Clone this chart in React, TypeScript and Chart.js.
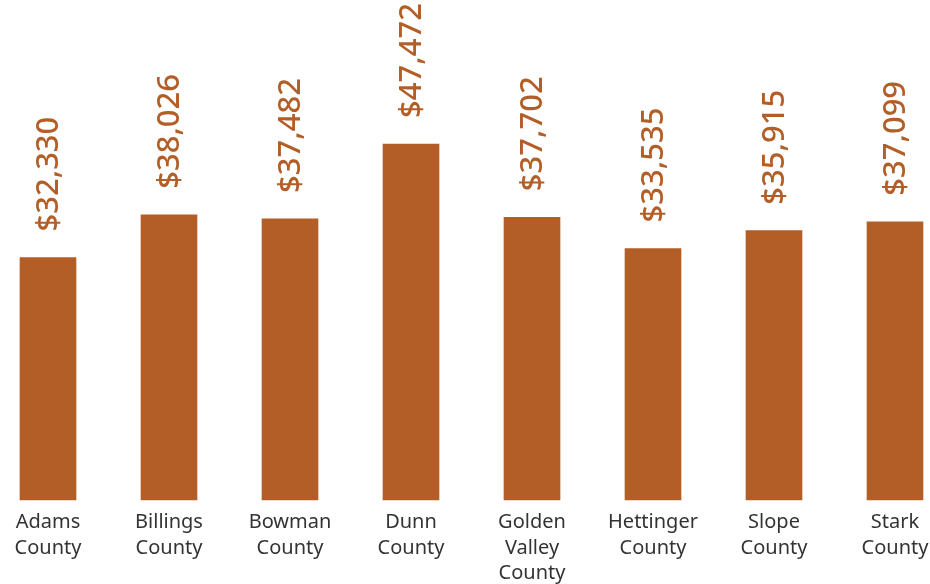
import React, { useEffect, useRef } from "react";
import { Chart, registerables } from "chart.js";

Chart.register(...registerables);

const categories: string[][] = [
  ["Adams", "County"],
  ["Billings", "County"],
  ["Bowman", "County"],
  ["Dunn", "County"],
  ["Golden", "Valley", "County"],
  ["Hettinger", "County"],
  ["Slope", "County"],
  ["Stark", "County"],
];
const values: number[] = [32330, 38026, 37482, 47472, 37702, 33535, 35915, 37099];

const BAR_COLOR = "#B35E27";
const FONT = "'Noto Sans', sans-serif";

const valueLabels = {
  id: "valueLabels",
  afterDatasetsDraw(chart: any) {
    const ctx = chart.ctx;
    const meta = chart.getDatasetMeta(0);
    ctx.save();
    ctx.fillStyle = BAR_COLOR;
    ctx.font = `500 31px ${FONT}`;
    ctx.textAlign = "left";
    ctx.textBaseline = "middle";
    meta.data.forEach((bar: any, i: number) => {
      const v = values[i];
      const txt = "$" + v.toLocaleString("en-US");
      ctx.save();
      ctx.translate(bar.x + 1, bar.y - 26);
      ctx.rotate(-Math.PI / 2);
      ctx.fillText(txt, 0, 0);
      ctx.restore();
    });
    ctx.restore();
  },
};

export default function App() {
  const ref = useRef<HTMLCanvasElement>(null);
  useEffect(() => {
    document.body.style.margin = "0";
    const chart = new Chart(ref.current!, {
      type: "bar",
      data: {
        labels: categories,
        datasets: [
          {
            data: values,
            backgroundColor: BAR_COLOR,
            barThickness: 56,
            clip: false,
          },
        ],
      },
      options: {
        animation: false,
        responsive: true,
        maintainAspectRatio: false,
        layout: { padding: { left: 48, right: 35, top: 50, bottom: 0 } },
        plugins: { legend: { display: false }, tooltip: { enabled: false } },
        scales: {
          x: {
            offset: false,
            grid: { display: false, drawTicks: false },
            border: { display: false },
            afterFit: (scale: any) => {
              scale.height = 84;
              scale.paddingLeft = 0;
              scale.paddingRight = 0;
            },
            ticks: {
              color: "#333333",
              font: { family: FONT, size: 20, lineHeight: "25.5px" },
              padding: 10,
              maxRotation: 0,
              autoSkip: false,
            },
          },
          y: {
            display: false,
            min: 0,
            max: 60000,
          },
        },
      },
      plugins: [valueLabels],
    });
    return () => chart.destroy();
  }, []);
  return (
    <div style={{ width: 930, height: 584, position: "relative" }}>
      <canvas ref={ref} />
    </div>
  );
}
